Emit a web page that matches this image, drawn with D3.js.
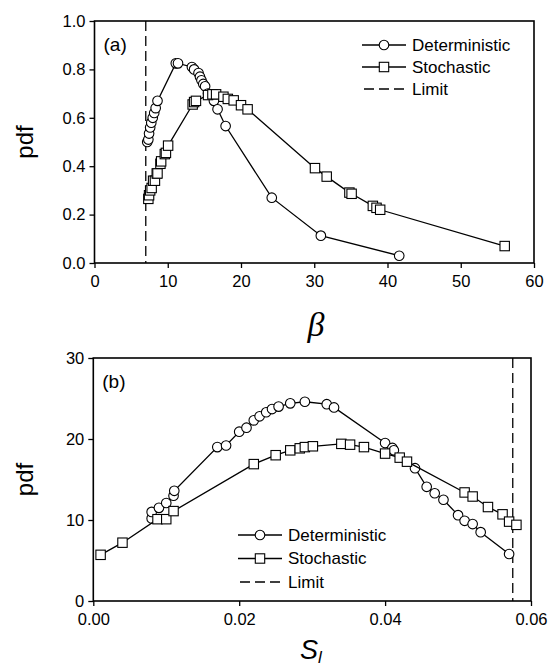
<!DOCTYPE html>
<html><head><meta charset="utf-8">
<script src="https://cdn.jsdelivr.net/npm/d3@7"></script>
<style>
body{margin:0;background:#fff}
text{font-family:Arial,"Liberation Sans",Helvetica,sans-serif;fill:#000}
</style>
</head><body>
<svg id="c" width="552" height="668"></svg>
<script>
// ---- Panel (a) data ----
const detA_beta = [7.2,7.35,7.45,7.6,7.75,7.95,8.15,8.35,8.6,11.1,11.4,13.3,13.6,14.2,14.4,14.6,14.85,15.1,15.5,16.3,16.8,17.9,24.2,30.9,41.6];
const detA_pdf  = [0.50,0.51,0.535,0.56,0.58,0.60,0.62,0.64,0.67,0.825,0.825,0.81,0.80,0.785,0.77,0.755,0.74,0.73,0.70,0.67,0.635,0.566,0.27,0.113,0.03];
const stoA_beta = [7.35,7.45,7.6,7.8,8.0,8.25,8.5,8.6,9.0,9.1,9.6,9.75,10.05,13.4,13.6,13.85,15.5,16.1,16.6,17.6,18.2,19.0,20.0,20.9,30.1,31.7,34.8,35.1,38.0,38.5,39.0,56.0];
const stoA_pdf  = [0.265,0.28,0.30,0.31,0.34,0.34,0.37,0.37,0.41,0.42,0.45,0.455,0.485,0.655,0.665,0.67,0.694,0.697,0.697,0.687,0.678,0.672,0.652,0.635,0.392,0.357,0.291,0.286,0.236,0.228,0.22,0.07];
const limitA = 7.0;
const xTicksA = [0,10,20,30,40,50,60];
const yTicksA = [0,0.2,0.4,0.6,0.8,1.0];

// ---- Panel (b) data ----
const detB_s   = [0.0080,0.0080,0.0090,0.0100,0.0110,0.0111,0.0170,0.0182,0.0200,0.0210,0.0220,0.0228,0.0237,0.0245,0.0254,0.0270,0.0290,0.0320,0.0330,0.0400,0.0410,0.0412,0.0441,0.0457,0.0468,0.0480,0.0500,0.0509,0.0520,0.0531,0.0570];
const detB_pdf = [10.2,11.0,11.5,12.1,13.0,13.6,19.0,19.2,20.9,21.4,22.3,22.8,23.3,23.7,24.0,24.4,24.6,24.3,23.9,19.5,18.9,18.6,16.4,14.1,13.3,12.5,10.6,9.9,9.5,8.5,5.8];
const stoB_s   = [0.0010,0.0040,0.0088,0.0100,0.0110,0.0220,0.0250,0.0270,0.0283,0.0290,0.0301,0.0340,0.0352,0.0371,0.0400,0.0420,0.0430,0.0509,0.0520,0.0541,0.0561,0.0570,0.0580];
const stoB_pdf = [5.7,7.2,10.1,10.1,11.1,16.9,18.0,18.6,18.85,19.0,19.1,19.4,19.3,19.0,18.2,17.7,17.2,13.4,12.9,11.6,10.7,9.8,9.4];
const limitB = 0.0575;
const xTicksB = [0,0.02,0.04,0.06];
const yTicksB = [0,10,20,30];

const legendLabels = ["Deterministic","Stochastic","Limit"];

const svg = d3.select("#c");

function panel(cfg){
  const x = d3.scaleLinear().domain(cfg.xDomain).range(cfg.xRange);
  const y = d3.scaleLinear().domain(cfg.yDomain).range(cfg.yRange);
  const g = svg.append("g");
  const [x0,x1] = cfg.xRange, [y0,y1] = cfg.yRange;

  const xa = g.append("g").attr("transform",`translate(0,${y0})`)
    .call(d3.axisBottom(x).tickValues(cfg.xTicks).tickFormat(cfg.xFmt).tickSize(5).tickSizeOuter(0).tickPadding(7));
  const ya = g.append("g").attr("transform",`translate(${x0},0)`)
    .call(d3.axisLeft(y).tickValues(cfg.yTicks).tickFormat(cfg.yFmt).tickSize(5).tickSizeOuter(0).tickPadding(4));
  [xa,ya].forEach(a=>{
    a.select(".domain").remove();
    a.selectAll("line").attr("stroke","#000").attr("stroke-width",1.3);
    a.selectAll("text").style("font-size","16.5px");
  });
  g.append("rect").attr("x",x0).attr("y",y1).attr("width",x1-x0).attr("height",y0-y1)
    .attr("fill","none").attr("stroke","#000").attr("stroke-width",1.6);

  g.append("line").attr("x1",x(cfg.limit)).attr("x2",x(cfg.limit)).attr("y1",y1).attr("y2",y0)
    .attr("stroke","#000").attr("stroke-width",1.3).attr("stroke-dasharray","10,5");

  const line = d3.line().x(d=>x(d[0])).y(d=>y(d[1]));
  cfg.series.forEach(s=>{
    const pts = s.xs.map((v,i)=>[v,s.ys[i]]);
    g.append("path").datum(pts).attr("d",line).attr("fill","none").attr("stroke","#000").attr("stroke-width",1.3);
    if(s.shape==="circle"){
      g.selectAll(null).data(pts).enter().append("circle")
        .attr("cx",d=>x(d[0])).attr("cy",d=>y(d[1])).attr("r",4.8)
        .attr("fill","#fff").attr("stroke","#000").attr("stroke-width",1.1);
    } else {
      g.selectAll(null).data(pts).enter().append("rect")
        .attr("x",d=>x(d[0])-4.7).attr("y",d=>y(d[1])-4.7).attr("width",9.4).attr("height",9.4)
        .attr("fill","#fff").attr("stroke","#000").attr("stroke-width",1.1);
    }
  });

  g.append("text").attr("x",x0+9).attr("y",y1+30).text(cfg.label).style("font-size","19px");

  const L = cfg.legend;
  legendLabels.forEach((lab,i)=>{
    const yy = L.y + i*L.dy;
    const ln = g.append("line").attr("x1",L.x).attr("x2",L.x+44).attr("y1",yy).attr("y2",yy)
      .attr("stroke","#000").attr("stroke-width",1.3);
    if(i===2) ln.attr("stroke-dasharray","10,5").attr("x1",L.x+2);
    if(i===0) g.append("circle").attr("cx",L.x+22).attr("cy",yy).attr("r",4.8).attr("fill","#fff").attr("stroke","#000").attr("stroke-width",1.1);
    if(i===1) g.append("rect").attr("x",L.x+22-4.7).attr("y",yy-4.7).attr("width",9.4).attr("height",9.4).attr("fill","#fff").attr("stroke","#000").attr("stroke-width",1.1);
    g.append("text").attr("x",L.x+50).attr("y",yy).attr("dy","0.35em").text(lab).style("font-size","17px");
  });

  g.append("text").attr("transform",`translate(33,${(y0+y1)/2}) rotate(-90)`)
    .attr("text-anchor","middle").text("pdf").style("font-size","24px");
  return {x,y,g};
}

const pa = panel({
  xDomain:[0,60], xRange:[94.5,534], yDomain:[0,1], yRange:[263,21],
  xTicks:xTicksA, yTicks:yTicksA, xFmt:d3.format("d"), yFmt:d3.format(".1f"),
  limit:limitA, label:"(a)",
  series:[{xs:detA_beta,ys:detA_pdf,shape:"circle"},{xs:stoA_beta,ys:stoA_pdf,shape:"square"}],
  legend:{x:362,y:45,dy:22}
});
pa.g.append("text").attr("x",316).attr("y",336).attr("text-anchor","middle")
  .style("font-size","34px").style("font-style","italic").style("font-family","'Times New Roman','Liberation Serif',serif").text("β");

const pb = panel({
  xDomain:[0,0.06], xRange:[93.3,531], yDomain:[0,30], yRange:[601,358],
  xTicks:xTicksB, yTicks:yTicksB, xFmt:d3.format(".2f"), yFmt:d3.format("d"),
  limit:limitB, label:"(b)",
  series:[{xs:detB_s,ys:detB_pdf,shape:"circle"},{xs:stoB_s,ys:stoB_pdf,shape:"square"}],
  legend:{x:238,y:535,dy:23.5}
});
const st = pb.g.append("text").attr("x",311).attr("y",659).attr("text-anchor","middle")
  .style("font-size","27px").style("font-style","italic");
st.append("tspan").text("S");
st.append("tspan").attr("dy","4").style("font-size","17px").text("l");
</script>
</body></html>
